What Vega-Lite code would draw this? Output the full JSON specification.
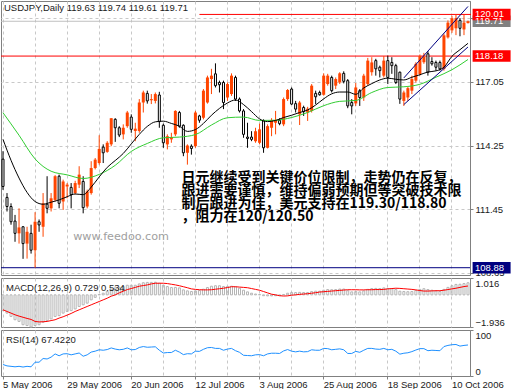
{
"$schema":"https://vega.github.io/schema/vega-lite/v6.json",
"padding":0,
"background":"white",
"spacing":3,
"bounds":"flush",
"config":{"view":{"stroke":"#808080","strokeWidth":1},"font":"Liberation Sans",
"axis":{"labelFont":"Liberation Sans","labelFontSize":9.5,"labelColor":"#1a1a1a","tickColor":"#808080","domainColor":"#808080","gridColor":"#c8c8c8","gridDash":[3,3],"title":null}},
"datasets":{
"bars":[
{"d":"2006-05-05","o":113.65,"h":114.0,"l":112.3,"c":112.45,"m":-0.95,"s":-0.9,"r":25},
{"d":"2006-05-08","o":111.97,"h":112.16,"l":111.35,"c":111.57,"m":-1.1,"s":-1.0,"r":22},
{"d":"2006-05-09","o":111.57,"h":111.71,"l":110.77,"c":110.9,"m":-1.3,"s":-1.1,"r":21},
{"d":"2006-05-10","o":110.93,"h":111.2,"l":110.02,"c":110.39,"m":-1.5,"s":-1.2,"r":20},
{"d":"2006-05-11","o":110.39,"h":111.49,"l":109.94,"c":110.65,"m":-1.6,"s":-1.28,"r":21},
{"d":"2006-05-12","o":110.68,"h":110.7,"l":109.27,"c":109.94,"m":-1.8,"s":-1.35,"r":19.5},
{"d":"2006-05-15","o":109.94,"h":110.68,"l":109.28,"c":110.46,"m":-1.85,"s":-1.42,"r":21},
{"d":"2006-05-16","o":110.39,"h":110.77,"l":109.5,"c":109.65,"m":-1.936,"s":-1.48,"r":20},
{"d":"2006-05-17","o":109.65,"h":111.32,"l":108.88,"c":110.9,"m":-1.85,"s":-1.6,"r":30},
{"d":"2006-05-18","o":110.9,"h":111.0,"l":110.46,"c":110.76,"m":-1.8,"s":-1.63,"r":30},
{"d":"2006-05-19","o":110.68,"h":112.16,"l":110.24,"c":111.71,"m":-1.65,"s":-1.62,"r":38},
{"d":"2006-05-22","o":111.67,"h":112.9,"l":111.27,"c":111.49,"m":-1.55,"s":-1.6,"r":37},
{"d":"2006-05-23","o":111.49,"h":112.16,"l":111.35,"c":111.93,"m":-1.45,"s":-1.55,"r":41},
{"d":"2006-05-24","o":111.86,"h":112.95,"l":111.79,"c":112.9,"m":-1.3,"s":-1.5,"r":48},
{"d":"2006-05-25","o":112.9,"h":112.97,"l":111.49,"c":111.71,"m":-1.25,"s":-1.4,"r":44},
{"d":"2006-05-26","o":111.79,"h":112.75,"l":111.42,"c":112.67,"m":-1.1,"s":-1.32,"r":48},
{"d":"2006-05-29","o":112.45,"h":112.6,"l":111.93,"c":112.53,"m":-1.0,"s":-1.22,"r":48.5},
{"d":"2006-05-30","o":112.41,"h":112.6,"l":111.49,"c":112.09,"m":-0.95,"s":-1.12,"r":46},
{"d":"2006-05-31","o":112.16,"h":112.7,"l":112.1,"c":112.6,"m":-0.85,"s":-1.0,"r":48},
{"d":"2006-06-01","o":112.53,"h":113.34,"l":112.38,"c":112.97,"m":-0.7,"s":-0.9,"r":50},
{"d":"2006-06-02","o":112.67,"h":112.9,"l":111.27,"c":111.52,"m":-0.6,"s":-0.8,"r":43},
{"d":"2006-06-05","o":111.57,"h":112.31,"l":111.49,"c":112.23,"m":-0.5,"s":-0.7,"r":46},
{"d":"2006-06-06","o":112.16,"h":113.56,"l":112.09,"c":113.26,"m":-0.3,"s":-0.6,"r":52},
{"d":"2006-06-07","o":113.26,"h":113.7,"l":113.2,"c":113.63,"m":-0.15,"s":-0.5,"r":54},
{"d":"2006-06-08","o":113.48,"h":114.7,"l":113.41,"c":114.1,"m":0.02,"s":-0.4,"r":57},
{"d":"2006-06-09","o":114.18,"h":114.3,"l":113.48,"c":113.93,"m":0.1,"s":-0.3,"r":56},
{"d":"2006-06-12","o":113.97,"h":114.44,"l":113.93,"c":114.37,"m":0.2,"s":-0.2,"r":57.5},
{"d":"2006-06-13","o":114.3,"h":115.45,"l":114.22,"c":115.45,"m":0.35,"s":-0.08,"r":61},
{"d":"2006-06-14","o":115.4,"h":115.45,"l":114.41,"c":115.03,"m":0.42,"s":0.0,"r":58.5},
{"d":"2006-06-15","o":115.03,"h":115.1,"l":114.62,"c":114.71,"m":0.45,"s":0.12,"r":57},
{"d":"2006-06-16","o":114.74,"h":115.18,"l":114.52,"c":115.03,"m":0.5,"s":0.22,"r":58},
{"d":"2006-06-19","o":115.1,"h":115.77,"l":115.03,"c":115.7,"m":0.58,"s":0.32,"r":61},
{"d":"2006-06-20","o":115.5,"h":115.62,"l":114.81,"c":114.96,"m":0.58,"s":0.38,"r":57},
{"d":"2006-06-21","o":114.89,"h":115.25,"l":114.44,"c":114.99,"m":0.58,"s":0.45,"r":57.5},
{"d":"2006-06-22","o":114.89,"h":116.29,"l":114.81,"c":116.14,"m":0.66,"s":0.52,"r":62},
{"d":"2006-06-23","o":116.14,"h":116.66,"l":115.7,"c":116.58,"m":0.73,"s":0.56,"r":64},
{"d":"2006-06-26","o":116.54,"h":116.66,"l":116.09,"c":116.21,"m":0.75,"s":0.6,"r":62.5},
{"d":"2006-06-27","o":116.24,"h":116.51,"l":116.07,"c":116.29,"m":0.75,"s":0.66,"r":63},
{"d":"2006-06-28","o":116.21,"h":116.58,"l":116.1,"c":116.51,"m":0.76,"s":0.7,"r":63.5},
{"d":"2006-06-29","o":116.47,"h":116.61,"l":115.03,"c":115.3,"m":0.7,"s":0.7,"r":56},
{"d":"2006-06-30","o":115.14,"h":115.21,"l":114.15,"c":114.37,"m":0.58,"s":0.7,"r":50},
{"d":"2006-07-03","o":114.3,"h":114.74,"l":114.08,"c":114.66,"m":0.5,"s":0.68,"r":51},
{"d":"2006-07-04","o":114.52,"h":114.81,"l":114.37,"c":114.62,"m":0.44,"s":0.64,"r":51},
{"d":"2006-07-05","o":114.74,"h":115.8,"l":114.66,"c":115.77,"m":0.45,"s":0.6,"r":56},
{"d":"2006-07-06","o":115.7,"h":115.77,"l":115.03,"c":115.1,"m":0.42,"s":0.55,"r":52},
{"d":"2006-07-07","o":115.14,"h":115.18,"l":113.78,"c":113.93,"m":0.3,"s":0.49,"r":46.5},
{"d":"2006-07-10","o":113.93,"h":114.3,"l":113.41,"c":114.25,"m":0.24,"s":0.43,"r":48.5},
{"d":"2006-07-11","o":114.22,"h":114.3,"l":113.85,"c":114.12,"m":0.2,"s":0.36,"r":48},
{"d":"2006-07-12","o":114.22,"h":115.77,"l":114.15,"c":115.7,"m":0.24,"s":0.33,"r":54},
{"d":"2006-07-13","o":115.55,"h":115.6,"l":115.25,"c":115.36,"m":0.26,"s":0.31,"r":53.5},
{"d":"2006-07-14","o":115.47,"h":116.73,"l":115.4,"c":116.66,"m":0.34,"s":0.3,"r":58},
{"d":"2006-07-17","o":116.14,"h":117.32,"l":116.09,"c":117.24,"m":0.44,"s":0.3,"r":61.5},
{"d":"2006-07-18","o":117.17,"h":117.62,"l":116.51,"c":117.32,"m":0.52,"s":0.31,"r":62},
{"d":"2006-07-19","o":117.4,"h":117.86,"l":116.8,"c":116.88,"m":0.55,"s":0.34,"r":60},
{"d":"2006-07-20","o":117.02,"h":117.1,"l":116.58,"c":116.92,"m":0.55,"s":0.37,"r":60},
{"d":"2006-07-21","o":117.02,"h":117.1,"l":115.85,"c":116.14,"m":0.5,"s":0.4,"r":56},
{"d":"2006-07-24","o":116.36,"h":117.02,"l":116.21,"c":116.95,"m":0.5,"s":0.44,"r":58.5},
{"d":"2006-07-25","o":116.51,"h":117.42,"l":116.43,"c":117.32,"m":0.52,"s":0.49,"r":60},
{"d":"2006-07-26","o":117.24,"h":117.32,"l":116.21,"c":116.29,"m":0.48,"s":0.49,"r":55},
{"d":"2006-07-27","o":116.29,"h":116.36,"l":115.7,"c":115.77,"m":0.4,"s":0.47,"r":51.5},
{"d":"2006-07-28","o":115.77,"h":115.85,"l":114.59,"c":114.74,"m":0.28,"s":0.45,"r":45},
{"d":"2006-07-31","o":114.62,"h":115.25,"l":114.15,"c":114.56,"m":0.18,"s":0.43,"r":44.5},
{"d":"2006-08-01","o":114.62,"h":114.88,"l":114.44,"c":114.52,"m":0.1,"s":0.38,"r":44},
{"d":"2006-08-02","o":114.44,"h":115.03,"l":114.37,"c":114.88,"m":0.05,"s":0.33,"r":46},
{"d":"2006-08-03","o":114.37,"h":115.21,"l":114.3,"c":114.96,"m":0.02,"s":0.28,"r":46.5},
{"d":"2006-08-04","o":115.33,"h":115.4,"l":113.93,"c":114.15,"m":-0.05,"s":0.2,"r":44},
{"d":"2006-08-07","o":114.15,"h":115.18,"l":114.12,"c":115.1,"m":-0.06,"s":0.12,"r":48},
{"d":"2006-08-08","o":115.03,"h":115.45,"l":114.66,"c":115.36,"m":-0.06,"s":0.04,"r":49.5},
{"d":"2006-08-09","o":115.25,"h":115.77,"l":114.74,"c":115.36,"m":-0.05,"s":0.0,"r":49.5},
{"d":"2006-08-10","o":115.36,"h":115.45,"l":115.14,"c":115.21,"m":-0.05,"s":-0.05,"r":49},
{"d":"2006-08-11","o":115.18,"h":116.36,"l":115.1,"c":116.29,"m":0.02,"s":-0.07,"r":54.5},
{"d":"2006-08-14","o":116.29,"h":116.73,"l":116.21,"c":116.69,"m":0.1,"s":-0.06,"r":57.5},
{"d":"2006-08-15","o":116.73,"h":116.8,"l":116.04,"c":116.07,"m":0.14,"s":-0.02,"r":54},
{"d":"2006-08-16","o":116.09,"h":116.21,"l":115.7,"c":115.85,"m":0.14,"s":0.0,"r":52.5},
{"d":"2006-08-17","o":115.62,"h":116.21,"l":115.15,"c":116.14,"m":0.15,"s":0.03,"r":54},
{"d":"2006-08-18","o":115.92,"h":116.0,"l":115.55,"c":115.74,"m":0.14,"s":0.05,"r":52.5},
{"d":"2006-08-21","o":115.7,"h":115.95,"l":115.33,"c":115.87,"m":0.14,"s":0.07,"r":53},
{"d":"2006-08-22","o":115.77,"h":116.95,"l":115.7,"c":116.88,"m":0.2,"s":0.1,"r":57},
{"d":"2006-08-23","o":116.54,"h":116.66,"l":116.07,"c":116.39,"m":0.22,"s":0.13,"r":56},
{"d":"2006-08-24","o":116.58,"h":116.66,"l":116.44,"c":116.48,"m":0.22,"s":0.17,"r":56},
{"d":"2006-08-25","o":116.48,"h":117.42,"l":116.44,"c":117.32,"m":0.28,"s":0.19,"r":60},
{"d":"2006-08-28","o":116.95,"h":117.4,"l":116.88,"c":117.32,"m":0.32,"s":0.21,"r":59.5},
{"d":"2006-08-29","o":117.24,"h":117.32,"l":116.58,"c":116.66,"m":0.31,"s":0.23,"r":57},
{"d":"2006-08-30","o":116.88,"h":117.24,"l":116.73,"c":117.17,"m":0.32,"s":0.25,"r":58},
{"d":"2006-08-31","o":117.02,"h":117.47,"l":116.95,"c":117.42,"m":0.35,"s":0.27,"r":59},
{"d":"2006-09-01","o":117.42,"h":117.51,"l":116.98,"c":117.07,"m":0.35,"s":0.29,"r":57},
{"d":"2006-09-04","o":117.1,"h":117.17,"l":115.89,"c":115.99,"m":0.25,"s":0.31,"r":49},
{"d":"2006-09-05","o":116.14,"h":116.29,"l":115.62,"c":115.99,"m":0.18,"s":0.31,"r":49},
{"d":"2006-09-06","o":116.1,"h":117.0,"l":115.99,"c":116.8,"m":0.2,"s":0.31,"r":53.5},
{"d":"2006-09-07","o":116.66,"h":116.73,"l":115.99,"c":116.36,"m":0.18,"s":0.3,"r":51.5},
{"d":"2006-09-08","o":116.36,"h":117.4,"l":116.21,"c":117.32,"m":0.24,"s":0.3,"r":56},
{"d":"2006-09-11","o":116.95,"h":118.1,"l":116.88,"c":117.98,"m":0.33,"s":0.31,"r":60},
{"d":"2006-09-12","o":117.47,"h":118.13,"l":117.32,"c":117.9,"m":0.38,"s":0.31,"r":60},
{"d":"2006-09-13","o":117.98,"h":118.06,"l":117.32,"c":117.62,"m":0.39,"s":0.32,"r":58.5},
{"d":"2006-09-14","o":117.69,"h":117.76,"l":117.24,"c":117.54,"m":0.38,"s":0.32,"r":58},
{"d":"2006-09-15","o":117.32,"h":118.18,"l":117.24,"c":117.98,"m":0.42,"s":0.33,"r":60},
{"d":"2006-09-18","o":117.98,"h":118.2,"l":116.95,"c":117.24,"m":0.38,"s":0.36,"r":57},
{"d":"2006-09-19","o":117.9,"h":118.13,"l":117.4,"c":117.76,"m":0.37,"s":0.38,"r":58},
{"d":"2006-09-20","o":117.76,"h":117.84,"l":116.95,"c":117.02,"m":0.32,"s":0.4,"r":54},
{"d":"2006-09-21","o":117.47,"h":117.5,"l":116.08,"c":116.29,"m":0.22,"s":0.39,"r":47.5},
{"d":"2006-09-22","o":116.21,"h":116.66,"l":115.99,"c":116.58,"m":0.2,"s":0.37,"r":49.5},
{"d":"2006-09-25","o":116.36,"h":116.83,"l":116.21,"c":116.77,"m":0.19,"s":0.35,"r":50.5},
{"d":"2006-09-26","o":116.66,"h":117.32,"l":116.51,"c":117.17,"m":0.2,"s":0.33,"r":53},
{"d":"2006-09-27","o":117.1,"h":117.91,"l":117.02,"c":117.84,"m":0.26,"s":0.3,"r":56.5},
{"d":"2006-09-28","o":117.39,"h":118.25,"l":117.32,"c":118.18,"m":0.33,"s":0.26,"r":59.5},
{"d":"2006-09-29","o":117.91,"h":118.32,"l":117.84,"c":118.15,"m":0.37,"s":0.23,"r":59.5},
{"d":"2006-10-02","o":118.28,"h":118.4,"l":117.32,"c":117.47,"m":0.32,"s":0.23,"r":55},
{"d":"2006-10-03","o":117.94,"h":118.13,"l":117.76,"c":117.84,"m":0.28,"s":0.24,"r":56},
{"d":"2006-10-04","o":117.9,"h":117.98,"l":117.54,"c":117.69,"m":0.24,"s":0.25,"r":55.5},
{"d":"2006-10-05","o":117.9,"h":117.98,"l":117.54,"c":117.62,"m":0.21,"s":0.25,"r":55},
{"d":"2006-10-06","o":117.62,"h":119.17,"l":117.54,"c":119.09,"m":0.33,"s":0.28,"r":64},
{"d":"2006-10-09","o":119.0,"h":119.75,"l":118.95,"c":119.65,"m":0.45,"s":0.32,"r":66.5},
{"d":"2006-10-10","o":119.31,"h":119.95,"l":119.2,"c":119.84,"m":0.55,"s":0.36,"r":68},
{"d":"2006-10-11","o":119.4,"h":120.01,"l":119.1,"c":119.85,"m":0.63,"s":0.4,"r":68.5},
{"d":"2006-10-12","o":119.75,"h":119.85,"l":119.05,"c":119.4,"m":0.64,"s":0.45,"r":65},
{"d":"2006-10-13","o":119.35,"h":120.0,"l":119.1,"c":119.65,"m":0.68,"s":0.5,"r":66.5},
{"d":"2006-10-16","o":119.63,"h":119.74,"l":119.61,"c":119.71,"m":0.729,"s":0.534,"r":67.42}
],
"maFast":[
{"d":"2006-05-05","v":114.52},{"d":"2006-05-09","v":113.6},{"d":"2006-05-11","v":112.82},{"d":"2006-05-15","v":112.19},{"d":"2006-05-17","v":111.79},{"d":"2006-05-19","v":111.67},{"d":"2006-05-23","v":111.76},{"d":"2006-05-25","v":111.86},{"d":"2006-05-29","v":112.0},{"d":"2006-05-31","v":112.12},{"d":"2006-06-02","v":112.09},{"d":"2006-06-06","v":112.42},{"d":"2006-06-08","v":112.87},{"d":"2006-06-12","v":113.29},{"d":"2006-06-14","v":113.59},{"d":"2006-06-16","v":113.9},{"d":"2006-06-20","v":114.32},{"d":"2006-06-22","v":114.74},{"d":"2006-06-26","v":115.09},{"d":"2006-06-28","v":115.29},{"d":"2006-06-30","v":115.32},{"d":"2006-07-04","v":115.22},{"d":"2006-07-06","v":115.1},{"d":"2006-07-10","v":114.87},{"d":"2006-07-12","v":114.95},{"d":"2006-07-14","v":115.22},{"d":"2006-07-18","v":115.58},{"d":"2006-07-20","v":115.88},{"d":"2006-07-24","v":116.12},{"d":"2006-07-26","v":116.25},{"d":"2006-07-28","v":116.05},{"d":"2006-08-01","v":115.74},{"d":"2006-08-03","v":115.42},{"d":"2006-08-07","v":115.3},{"d":"2006-08-09","v":115.35},{"d":"2006-08-11","v":115.48},{"d":"2006-08-15","v":115.58},{"d":"2006-08-17","v":115.7},{"d":"2006-08-21","v":115.81},{"d":"2006-08-23","v":116.03},{"d":"2006-08-25","v":116.3},{"d":"2006-08-29","v":116.52},{"d":"2006-08-31","v":116.6},{"d":"2006-09-04","v":116.6},{"d":"2006-09-06","v":116.5},{"d":"2006-09-08","v":116.78},{"d":"2006-09-12","v":116.97},{"d":"2006-09-14","v":117.13},{"d":"2006-09-18","v":117.21},{"d":"2006-09-20","v":117.16},{"d":"2006-09-22","v":117.13},{"d":"2006-09-26","v":117.25},{"d":"2006-09-28","v":117.36},{"d":"2006-10-02","v":117.48},{"d":"2006-10-04","v":117.53},{"d":"2006-10-06","v":117.69},{"d":"2006-10-10","v":118.17},{"d":"2006-10-12","v":118.46},{"d":"2006-10-16","v":118.74}
],
"maSlow":[
{"d":"2006-05-05","v":115.69},{"d":"2006-05-11","v":114.7},{"d":"2006-05-17","v":113.66},{"d":"2006-05-23","v":113.12},{"d":"2006-05-29","v":112.96},{"d":"2006-06-02","v":112.8},{"d":"2006-06-08","v":112.98},{"d":"2006-06-14","v":113.38},{"d":"2006-06-20","v":113.99},{"d":"2006-06-26","v":114.34},{"d":"2006-06-30","v":114.59},{"d":"2006-07-06","v":114.62},{"d":"2006-07-12","v":114.73},{"d":"2006-07-18","v":115.15},{"d":"2006-07-24","v":115.47},{"d":"2006-07-28","v":115.5},{"d":"2006-08-03","v":115.35},{"d":"2006-08-09","v":115.36},{"d":"2006-08-15","v":115.48},{"d":"2006-08-21","v":115.7},{"d":"2006-08-25","v":116.0},{"d":"2006-08-31","v":116.19},{"d":"2006-09-06","v":116.23},{"d":"2006-09-12","v":116.58},{"d":"2006-09-18","v":116.8},{"d":"2006-09-22","v":116.83},{"d":"2006-09-28","v":116.94},{"d":"2006-10-04","v":117.25},{"d":"2006-10-10","v":117.58},{"d":"2006-10-16","v":118.03}
],
"trend":[
{"d":"2006-09-22","p":117.22,"g":"upper"},{"d":"2006-10-16","p":120.36,"g":"upper"},
{"d":"2006-09-22","p":116.05,"g":"lower"},{"d":"2006-10-16","p":118.58,"g":"lower"}
],
"hl":[{"p":119.71,"k":"g"},{"p":118.18,"k":"r"},{"p":108.88,"k":"n"}],
"tags":[{"p":119.71,"k":"g","t":"119.71"},{"p":120.01,"k":"r","t":"120.01"},{"p":118.18,"k":"r","t":"118.18"},{"p":108.88,"k":"n","t":"108.88"}],
"cn":[
{"d":"2006-07-06","p":112.83,"t":"日元继续受到关键价位限制，走势仍在反复，"},
{"d":"2006-07-06","p":112.26,"t":"跟进需要谨慎，维持偏弱预期但等突破技术限"},
{"d":"2006-07-06","p":111.69,"t":"制后跟进为佳，美元支持在119.30/118.80"},
{"d":"2006-07-06","p":111.12,"t":"，阻力在120/120.50"}
]
},
"vconcat":[
{
"width":469,"height":274,
"layer":[
{"data":{"name":"hl"},"mark":{"type":"rule","strokeWidth":1},
 "encoding":{"y":{"field":"p","type":"quantitative","scale":{"domain":[108.56,120.6],"nice":false,"zero":false},
   "axis":{"orient":"right","values":[108.65,110.05,111.45,112.85,114.25,115.65,117.05,118.45,119.85],"labelExpr":"format(datum.value,'.2f')","tickSize":3,"labelPadding":2,"grid":true}},
  "color":{"field":"k","type":"nominal","scale":{"domain":["r","n","g"],"range":["#ff0000","#000080","#c0c0c0"]},"legend":null}}},
{"data":{"values":[{"d":"2006-07-13","d2":"2006-10-16","p":120.01}]},"mark":{"type":"rule","color":"#ff0000","x2Offset":3},
 "encoding":{"x":{"field":"d","type":"ordinal","scale":{"type":"band","paddingInner":0,"paddingOuter":0},
   "axis":{"values":["2006-05-05","2006-05-17","2006-05-29","2006-06-08","2006-06-20","2006-06-30","2006-07-12","2006-07-24","2006-08-03","2006-08-15","2006-08-25","2006-09-06","2006-09-18","2006-09-28","2006-10-10"],"labels":false,"ticks":false,"tickSize":0,"labelPadding":0,"domain":false,"grid":true,"bandPosition":0.5,"minExtent":0,"maxExtent":0,"offset":0}},
  "x2":{"field":"d2"},
  "y":{"field":"p","type":"quantitative","scale":{"domain":[108.56,120.6],"nice":false,"zero":false}}}},
{"data":{"name":"bars"},"mark":{"type":"rule","strokeWidth":1},
 "encoding":{"x":{"field":"d","type":"ordinal"},
  "y":{"field":"l","type":"quantitative","scale":{"domain":[108.56,120.6],"nice":false,"zero":false}},"y2":{"field":"h"},
  "color":{"condition":{"test":"datum.c >= datum.o","value":"#ff4500"},"value":"#000000"}}},
{"data":{"name":"bars"},"transform":[{"filter":"datum.c < datum.o"}],"mark":{"type":"bar","width":2,"fill":"#ffffff","stroke":"#000000","strokeWidth":1},
 "encoding":{"x":{"field":"d","type":"ordinal"},
  "y":{"field":"o","type":"quantitative","scale":{"domain":[108.56,120.6],"nice":false,"zero":false}},"y2":{"field":"c"}}},
{"data":{"name":"bars"},"transform":[{"filter":"datum.c >= datum.o"}],"mark":{"type":"bar","width":3,"color":"#ff4500"},
 "encoding":{"x":{"field":"d","type":"ordinal"},
  "y":{"field":"o","type":"quantitative","scale":{"domain":[108.56,120.6],"nice":false,"zero":false}},"y2":{"field":"c"}}},
{"data":{"name":"maSlow"},"mark":{"type":"line","color":"#32cd32","strokeWidth":1,"interpolate":"monotone"},
 "encoding":{"x":{"field":"d","type":"ordinal"},"y":{"field":"v","type":"quantitative","scale":{"domain":[108.56,120.6],"nice":false,"zero":false}}}},
{"data":{"name":"maFast"},"mark":{"type":"line","color":"#000000","strokeWidth":1,"interpolate":"monotone"},
 "encoding":{"x":{"field":"d","type":"ordinal"},"y":{"field":"v","type":"quantitative","scale":{"domain":[108.56,120.6],"nice":false,"zero":false}}}},
{"data":{"name":"trend"},"mark":{"type":"line","color":"#000080","strokeWidth":1},
 "encoding":{"x":{"field":"d","type":"ordinal"},"y":{"field":"p","type":"quantitative","scale":{"domain":[108.56,120.6],"nice":false,"zero":false}},"detail":{"field":"g"}}},
{"data":{"values":[{"d":"2006-05-30","p":110.23,"t":"www.feedoo.com"}]},"mark":{"type":"text","align":"left","baseline":"middle","dx":2,"font":"DejaVu Sans","fontSize":11.2,"color":"#a0a0a0"},
 "encoding":{"x":{"field":"d","type":"ordinal"},"y":{"field":"p","type":"quantitative","scale":{"domain":[108.56,120.6],"nice":false,"zero":false}},"text":{"field":"t"}}},
{"data":{"name":"cn"},"mark":{"type":"text","align":"left","baseline":"middle","dx":2,"font":"Noto Sans CJK SC","fontWeight":"bold","fontSize":14,"color":"#000000"},
 "encoding":{"x":{"field":"d","type":"ordinal"},"y":{"field":"p","type":"quantitative","scale":{"domain":[108.56,120.6],"nice":false,"zero":false}},"text":{"field":"t"}}},
{"data":{"values":[{"d":"2006-05-05","p":120.6,"t":"USDJPY,Daily  119.63 119.74 119.61 119.71"}]},"mark":{"type":"text","align":"left","baseline":"top","dx":1,"dy":2,"font":"Liberation Sans","fontSize":9.5,"color":"#1a1a1a"},
 "encoding":{"x":{"field":"d","type":"ordinal"},"y":{"field":"p","type":"quantitative","scale":{"domain":[108.56,120.6],"nice":false,"zero":false}},"text":{"field":"t"}}},
{"data":{"name":"tags"},"mark":{"type":"point","shape":"M-1,-0.3L1,-0.3L1,0.3L-1,0.3Z","size":1444,"filled":true,"opacity":1,"strokeWidth":0,"xOffset":23.6},
 "encoding":{"x":{"datum":"2006-10-16","type":"ordinal"},"y":{"field":"p","type":"quantitative","scale":{"domain":[108.56,120.6],"nice":false,"zero":false}},
  "fill":{"field":"k","type":"nominal","scale":{"domain":["r","n","g"],"range":["#ff0000","#000080","#808080"]},"legend":null}}},
{"data":{"name":"tags"},"mark":{"type":"text","align":"left","baseline":"middle","dx":7,"font":"Liberation Sans","fontSize":9.5,"color":"#ffffff"},
 "encoding":{"x":{"datum":"2006-10-16","type":"ordinal"},"y":{"field":"p","type":"quantitative","scale":{"domain":[108.56,120.6],"nice":false,"zero":false}},"text":{"field":"t"}}}
]
},
{
"width":469,"height":49,
"layer":[
{"data":{"name":"bars"},"mark":{"type":"bar","width":2,"filled":false,"color":"#b4b4b4","strokeWidth":1},
 "encoding":{"x":{"field":"d","type":"ordinal","scale":{"type":"band","paddingInner":0,"paddingOuter":0},
   "axis":{"values":["2006-05-05","2006-05-17","2006-05-29","2006-06-08","2006-06-20","2006-06-30","2006-07-12","2006-07-24","2006-08-03","2006-08-15","2006-08-25","2006-09-06","2006-09-18","2006-09-28","2006-10-10"],"labels":false,"ticks":false,"tickSize":0,"labelPadding":0,"domain":false,"grid":true,"bandPosition":0.5,"minExtent":0,"maxExtent":0,"offset":0}},
  "y":{"field":"m","type":"quantitative","scale":{"domain":[-1.936,1.016],"nice":false,"zero":false},
   "axis":{"orient":"right","values":[1.016,0,-1.936],"labelExpr":"datum.value == 0 ? '0.00' : format(datum.value, '.3f')","labelFlush":true,"tickSize":3,"labelPadding":2,"grid":false}},
  "y2":{"datum":0}}},
{"data":{"name":"bars"},"mark":{"type":"line","color":"#ff0000","strokeWidth":1},
 "encoding":{"x":{"field":"d","type":"ordinal"},"y":{"field":"s","type":"quantitative","scale":{"domain":[-1.936,1.016],"nice":false,"zero":false}}}},
{"data":{"values":[{"d":"2006-05-05","v":1.016,"t":"MACD(12,26,9) 0.729 0.534"}]},"mark":{"type":"text","align":"left","baseline":"top","dx":3,"dy":5,"font":"Liberation Sans","fontSize":9.5,"color":"#1a1a1a"},
 "encoding":{"x":{"field":"d","type":"ordinal"},"y":{"field":"v","type":"quantitative","scale":{"domain":[-1.936,1.016],"nice":false,"zero":false}},"text":{"field":"t"}}}
]
},
{
"width":469,"height":46,
"layer":[
{"data":{"name":"bars"},"mark":{"type":"line","color":"#1e90ff","strokeWidth":1},
 "encoding":{"x":{"field":"d","type":"ordinal","scale":{"type":"band","paddingInner":0,"paddingOuter":0},
   "axis":{"values":["2006-05-05","2006-05-17","2006-05-29","2006-06-08","2006-06-20","2006-06-30","2006-07-12","2006-07-24","2006-08-03","2006-08-15","2006-08-25","2006-09-06","2006-09-18","2006-09-28","2006-10-10"],
    "grid":true,"bandPosition":0.5,"domain":false,"labelAngle":0,"labelAlign":"left","labelOverlap":false,"tickSize":3,"labelPadding":0,
    "labelExpr":"indexof(['2006-05-05','2006-05-29','2006-06-20','2006-07-12','2006-08-03','2006-08-25','2006-09-18','2006-10-10'], datum.value) >= 0 ? utcFormat(toDate(datum.value), '%-d %b %Y') : ''",
    "tickOpacity":{"condition":{"test":"indexof(['2006-05-05','2006-05-29','2006-06-20','2006-07-12','2006-08-03','2006-08-25','2006-09-18','2006-10-10'], datum.value) >= 0","value":1},"value":0}}},
  "y":{"field":"r","type":"quantitative","scale":{"domain":[0,100],"nice":false,"zero":false},
   "axis":{"orient":"right","values":[100,70,30,0],"labelFlush":true,"tickSize":3,"labelPadding":2,"grid":true,
    "gridOpacity":{"condition":{"test":"datum.value == 70 || datum.value == 30","value":1},"value":0}}}}},
{"data":{"values":[{"d":"2006-05-05","v":100,"t":"RSI(14) 67.4220"}]},"mark":{"type":"text","align":"left","baseline":"top","dx":3,"dy":5,"font":"Liberation Sans","fontSize":9.5,"color":"#1a1a1a"},
 "encoding":{"x":{"field":"d","type":"ordinal"},"y":{"field":"v","type":"quantitative","scale":{"domain":[0,100],"nice":false,"zero":false}},"text":{"field":"t"}}}
]
}
]
}
